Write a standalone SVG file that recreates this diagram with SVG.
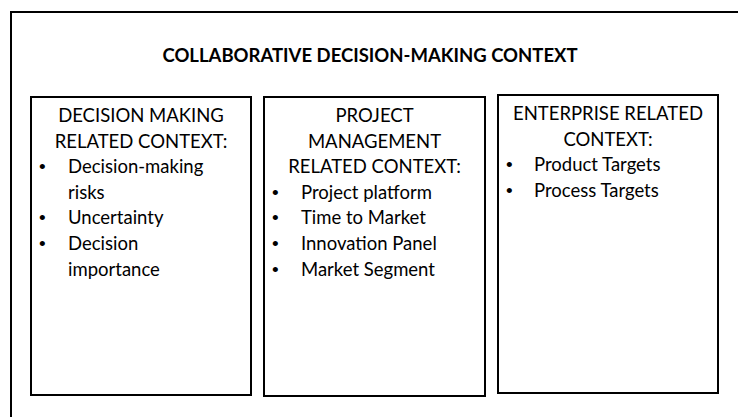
<svg xmlns="http://www.w3.org/2000/svg" width="738" height="417" viewBox="0 0 738 417">
<style>
.frame{fill:#fff;stroke:#000;stroke-width:2}
.box{fill:#fff;stroke:#000;stroke-width:2}
text{font-family:Lato,"Liberation Sans",sans-serif;font-size:18.5px;fill:#000}
.title{font-weight:bold}
.c{text-anchor:middle}
.b{font-family:"Liberation Sans",sans-serif;font-size:19px}
</style>
<rect width="738" height="417" fill="#fff"/>
<g id="frame">
<rect class="frame" x="11" y="12" width="800" height="500"/>
<text class="title c" x="370" y="62">COLLABORATIVE DECISION-MAKING CONTEXT</text>
</g>
<g id="connectors"></g>
<g id="decision">
<rect class="box" x="31" y="97" width="220" height="298"/>
<text class="c" x="141" y="122">DECISION MAKING</text>
<text class="c" x="141" y="147.5">RELATED CONTEXT:</text>
<text class="b" x="39" y="173">•</text><text x="68" y="173">Decision-making</text>
<text x="68" y="198.5">risks</text>
<text class="b" x="39" y="224">•</text><text x="68" y="224">Uncertainty</text>
<text class="b" x="39" y="250">•</text><text x="68" y="250">Decision</text>
<text x="68" y="275.5">importance</text>
</g>
<g id="project">
<rect class="box" x="264" y="97" width="221" height="299"/>
<text class="c" x="374.5" y="122">PROJECT</text>
<text class="c" x="374.5" y="147.5">MANAGEMENT</text>
<text class="c" x="374.5" y="173">RELATED CONTEXT:</text>
<text class="b" x="272" y="198.5">•</text><text x="301" y="198.5">Project platform</text>
<text class="b" x="272" y="224">•</text><text x="301" y="224">Time to Market</text>
<text class="b" x="272" y="250">•</text><text x="301" y="250">Innovation Panel</text>
<text class="b" x="272" y="275.5">•</text><text x="301" y="275.5">Market Segment</text>
</g>
<g id="enterprise">
<rect class="box" x="498" y="95" width="220" height="298"/>
<text class="c" x="608" y="120">ENTERPRISE RELATED</text>
<text class="c" x="608" y="145.5">CONTEXT:</text>
<text class="b" x="506" y="171">•</text><text x="534" y="171">Product Targets</text>
<text class="b" x="506" y="196.5">•</text><text x="534" y="196.5">Process Targets</text>
</g>
</svg>
